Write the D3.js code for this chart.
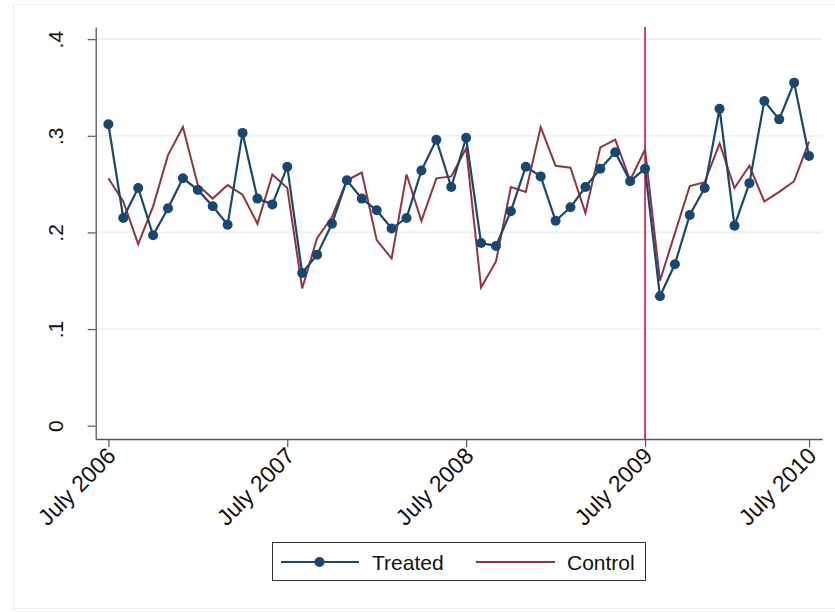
<!DOCTYPE html>
<html>
<head>
<meta charset="utf-8">
<script src="https://cdn.jsdelivr.net/npm/d3@7"></script>
<style>
  html, body { margin: 0; padding: 0; background: #ffffff; }
  svg { display: block; font-family: "Liberation Sans", Arial, sans-serif; }
</style>
</head>
<body>
<svg id="chart" width="835" height="612"></svg>
<script>
// Monthly shares, July 2006 onward (index 0 = July 2006)
const treated = [
  0.312, 0.215, 0.246, 0.197, 0.225, 0.256, 0.244, 0.227, 0.208, 0.303, 0.235, 0.229,
  0.268, 0.158, 0.177, 0.209, 0.254, 0.235, 0.223, 0.204, 0.215, 0.264, 0.296, 0.247,
  0.298, 0.189, 0.186, 0.222, 0.268, 0.258, 0.212, 0.226, 0.247, 0.266, 0.283, 0.253,
  0.266, 0.134, 0.167, 0.218, 0.246, 0.328, 0.207, 0.251, 0.336, 0.317, 0.355, 0.279
];
const control = [
  0.256, 0.232, 0.188, 0.227, 0.280, 0.309, 0.249, 0.235, 0.249, 0.239, 0.209, 0.260,
  0.246, 0.142, 0.194, 0.216, 0.254, 0.262, 0.192, 0.173, 0.260, 0.212, 0.256, 0.258,
  0.287, 0.143, 0.170, 0.247, 0.242, 0.309, 0.269, 0.267, 0.220, 0.288, 0.296, 0.254,
  0.286, 0.150, 0.199, 0.248, 0.252, 0.292, 0.246, 0.269, 0.232, 0.242, 0.253, 0.294
];
const xTickMonths = [0, 12, 24, 36, 47];
const xTickLabels = ["July 2006", "July 2007", "July 2008", "July 2009", "July 2010"];
const yTickValues = [0, 0.1, 0.2, 0.3, 0.4];
const yTickLabels = ["0", ".1", ".2", ".3", ".4"];
const policyMonth = 36;
const seriesNames = ["Treated", "Control"];

const colTreated = "#1a476f";
const colControl = "#90353b";
const colPolicy = "#c8143c";
const colGrid = "#eaf0f3";
const colAxis = "#555555";

const svg = d3.select("#chart");

// outer frame of the graph region
svg.append("rect")
  .attr("x", 13.5).attr("y", 4.5).attr("width", 830).attr("height", 604)
  .attr("fill", "#ffffff").attr("stroke", "#e8eef1").attr("stroke-width", 1);

const plotLeft = 95.7, plotRight = 822, plotTop = 27, plotBottom = 439;

const x = d3.scaleLinear().domain([-0.85, 47.87]).range([plotLeft, plotRight]);
const y = d3.scaleLinear().domain([-0.0138, 0.4126]).range([plotBottom, plotTop]);

// horizontal grid lines
svg.append("g").selectAll("line")
  .data(yTickValues.filter(v => v > 0))
  .join("line")
  .attr("x1", plotLeft).attr("x2", plotRight)
  .attr("y1", d => y(d)).attr("y2", d => y(d))
  .attr("stroke", colGrid).attr("stroke-width", 1.6);

// y axis
const yAxis = d3.axisLeft(y)
  .tickValues(yTickValues)
  .tickFormat((d, i) => yTickLabels[i])
  .tickSizeInner(8).tickSizeOuter(0).tickPadding(0);
const gy = svg.append("g").attr("transform", `translate(${plotLeft},0)`).call(yAxis);
gy.select(".domain").attr("stroke", colAxis).attr("stroke-width", 1.3);
gy.selectAll(".tick line").attr("stroke", colAxis).attr("stroke-width", 1.2);
gy.selectAll(".tick text")
  .attr("x", null).attr("dy", null)
  .attr("transform", "translate(-33,0) rotate(-90)")
  .attr("text-anchor", "middle")
  .attr("fill", "#111")
  .style("font-size", "21px");

// x axis
const xAxis = d3.axisBottom(x)
  .tickValues(xTickMonths)
  .tickFormat((d, i) => xTickLabels[i])
  .tickSizeInner(8).tickSizeOuter(0).tickPadding(0);
const gx = svg.append("g").attr("transform", `translate(0,${plotBottom})`).call(xAxis);
gx.select(".domain").attr("stroke", colAxis).attr("stroke-width", 1.3);
gx.selectAll(".tick line").attr("stroke", colAxis).attr("stroke-width", 1.2);
gx.selectAll(".tick text")
  .attr("y", null).attr("dy", null)
  .attr("transform", "translate(4,14) rotate(-45)")
  .attr("text-anchor", "end")
  .attr("dominant-baseline", "middle")
  .attr("fill", "#111")
  .style("font-size", "23px");

// policy date marker
svg.append("line")
  .attr("x1", x(policyMonth)).attr("x2", x(policyMonth))
  .attr("y1", plotTop).attr("y2", plotBottom)
  .attr("stroke", colPolicy).attr("stroke-width", 1.6);

const line = d3.line().x((d, i) => x(i)).y(d => y(d));

// control series
svg.append("path").datum(control)
  .attr("d", line).attr("fill", "none")
  .attr("stroke", colControl).attr("stroke-width", 2)
  .attr("stroke-linejoin", "miter");

// treated series with markers
svg.append("path").datum(treated)
  .attr("d", line).attr("fill", "none")
  .attr("stroke", colTreated).attr("stroke-width", 2.2);
svg.append("g").selectAll("circle")
  .data(treated)
  .join("circle")
  .attr("cx", (d, i) => x(i)).attr("cy", d => y(d))
  .attr("r", 5).attr("fill", colTreated);

// legend
const lg = svg.append("g");
lg.append("rect")
  .attr("x", 272.5).attr("y", 542.5).attr("width", 373).attr("height", 38)
  .attr("fill", "#fff").attr("stroke", "#333").attr("stroke-width", 1);
const ly = 562;
lg.append("line").attr("x1", 281).attr("x2", 359).attr("y1", ly).attr("y2", ly)
  .attr("stroke", colTreated).attr("stroke-width", 2.2);
lg.append("circle").attr("cx", 319.5).attr("cy", ly).attr("r", 5).attr("fill", colTreated);
lg.append("text").attr("x", 372).attr("y", ly).attr("dy", "0.36em")
  .attr("fill", "#111").style("font-size", "21px").text(seriesNames[0]);
lg.append("line").attr("x1", 476).attr("x2", 555).attr("y1", ly).attr("y2", ly)
  .attr("stroke", colControl).attr("stroke-width", 2);
lg.append("text").attr("x", 567).attr("y", ly).attr("dy", "0.36em")
  .attr("fill", "#111").style("font-size", "21px").text(seriesNames[1]);
</script>
</body>
</html>
